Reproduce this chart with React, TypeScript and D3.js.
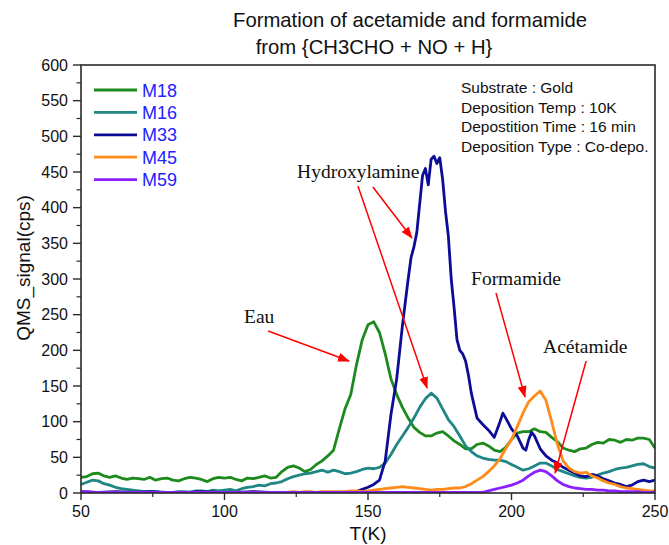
import React from "react";
import * as d3 from "d3";

// Temperature grid (K) shared by most series
const temps: number[] = d3.range(50, 251, 2);

const m18: number[] = [
  22, 23, 27, 28, 24, 22, 24, 21, 19, 21,
  20, 19, 22, 18, 20, 21, 18, 17, 20, 22,
  21, 19, 16, 20, 22, 21, 22, 19, 17, 21,
  20, 22, 24, 21, 22, 30, 36, 38, 35, 30,
  33, 40, 45, 52, 60, 90, 118, 138, 180, 215,
  236, 240, 225, 195, 160, 138, 120, 105, 92, 85,
  80, 80, 84, 86, 80, 73, 68, 62, 62, 68,
  70, 66, 60, 58, 64, 75, 84, 86, 86, 90,
  86, 85, 78, 72, 63, 60, 58, 62, 63, 68,
  71, 70, 75, 74, 71, 75, 74, 77, 77, 75,
  63,
];

const m16: number[] = [
  12, 15, 18, 17, 13, 11, 8, 6, 5, 4,
  3, 2, 2, 2, 1, 1, 1, 2, 2, 1,
  3, 3, 2, 4, 3, 4, 5, 3, 6, 8,
  9, 11, 10, 13, 14, 16, 20, 23, 25, 27,
  28, 30, 32, 29, 32, 30, 27, 28, 30, 33,
  35, 34, 36, 42, 54, 68, 80, 92, 105, 120,
  132, 140, 133, 118, 103, 93, 80, 66, 58, 52,
  49, 47, 46, 46, 44, 40, 36, 32, 34, 38,
  42, 42, 38, 33, 30, 27, 24, 22, 21, 22,
  25, 28, 30, 33, 35, 36, 38, 40, 41, 37,
  35,
];

const m33Temps: number[] = [
  50, 56, 62, 68, 74, 80, 86, 92, 98, 104,
  110, 116, 122, 128, 134, 140, 144, 146, 148, 150,
  152, 154, 156, 158, 160, 162, 164, 165, 166, 167,
  168, 169, 170, 171, 172, 173, 174, 175, 176, 177,
  178, 179, 180, 181, 182, 183, 184, 185, 186, 188,
  190, 192, 194, 196, 197, 198, 200, 202, 204, 205,
  206, 207, 208, 210, 212, 214, 216, 218, 220, 222,
  224, 226, 228, 230, 232, 234, 236, 238, 240, 242,
  244, 246, 248, 250,
];
const m33: number[] = [
  2, 1, 2, 1, 2, 1, 1, 2, 1, 1,
  2, 1, 1, 1, 1, 1, 1, 2, 5, 8,
  12, 18, 45, 110, 160, 235, 300, 330, 345, 365,
  405, 445, 455, 432, 468, 472, 462, 470, 440, 395,
  360, 300, 260, 215, 200, 195, 185, 165, 140, 105,
  96, 88, 78, 100, 112, 105, 90, 80, 63, 60,
  75, 85, 80, 62, 52, 46, 42, 36, 32, 28,
  24, 23, 26, 24, 20, 17, 14, 12, 9, 11,
  16, 18, 16, 18,
];

const m45: number[] = [
  1, 1, 1, 0, 1, 1, 1, 0, 1, 1,
  1, 1, 1, 1, 0, 1, 1, 1, 1, 1,
  1, 1, 1, 1, 1, 1, 1, 1, 1, 1,
  1, 1, 1, 1, 1, 1, 1, 2, 1, 2,
  2, 1, 2, 2, 2, 2, 2, 3, 3, 2,
  3, 4, 5, 6, 7, 8, 9, 8, 7, 6,
  5, 4, 5, 5, 6, 7, 7, 9, 13, 18,
  23, 30, 38, 48, 62, 75, 93, 112, 128, 136,
  143, 130, 100, 68, 45, 35, 30, 28, 29, 24,
  21, 17, 14, 12, 9, 7, 6, 5, 4, 3,
  3,
];

const m59: number[] = [
  2, 2, 1, 1, 1, 1, 1, 1, 1, 1,
  1, 1, 1, 1, 1, 1, 1, 1, 1, 1,
  1, 1, 1, 1, 1, 1, 1, 1, 1, 1,
  1, 1, 1, 1, 1, 1, 1, 1, 1, 1,
  1, 1, 1, 1, 1, 1, 1, 1, 1, 1,
  1, 1, 1, 1, 1, 1, 1, 1, 1, 1,
  1, 1, 1, 1, 1, 1, 1, 1, 1, 1,
  1, 3, 5, 7, 9, 11, 14, 18, 24, 29,
  32, 30, 24, 17, 12, 9, 7, 6, 5, 5,
  4, 4, 3, 3, 2, 2, 2, 2, 1, 1,
  1,
];

const seriesNames = ["M18", "M16", "M33", "M45", "M59"];
const seriesColors = ["#1d8a1d", "#1f8585", "#0c0c96", "#ff8c1a", "#8c1fff"];

const xTicks = [50, 100, 150, 200, 250];
const xMinor = [75, 125, 175, 225];
const yTicks = [0, 50, 100, 150, 200, 250, 300, 350, 400, 450, 500, 550, 600];
const yMinor = [25, 75, 125, 175, 225, 275, 325, 375, 425, 475, 525, 575];

const titleLines = ["Formation of acetamide and formamide", "from {CH3CHO + NO + H}"];
const infoLines = [
  "Substrate : Gold",
  "Deposition Temp : 10K",
  "Depostition Time : 16 min",
  "Deposition Type : Co-depo.",
];

// annotations in data coordinates
const labels = [
  { text: "Eau", t: 106.8, v: 238 },
  { text: "Hydroxylamine", t: 125.3, v: 441.6 },
  { text: "Formamide", t: 185.9, v: 291.6 },
  { text: "Acétamide", t: 211.0, v: 196.3 },
];
const arrows = [
  { t1: 115.2, v1: 227.1, t2: 143.4, v2: 185.0 },
  { t1: 151.7, v1: 429.0, t2: 165.3, v2: 357.5 },
  { t1: 146.5, v1: 430.4, t2: 170.6, v2: 147.2 },
  { t1: 194.6, v1: 280.4, t2: 204.7, v2: 134.6 },
  { t1: 226.0, v1: 185.0, t2: 215.2, v2: 28.0 },
];

const W = 669;
const H = 545;
const L = 81, R = 655, T = 65, B = 493;
const SANS = "'Liberation Sans', Arial, sans-serif";
const SERIF = "'Liberation Serif', 'Times New Roman', serif";

export default function App() {
  const x = d3.scaleLinear().domain([50, 250]).range([L, R]);
  const y = d3.scaleLinear().domain([0, 600]).range([B, T]);
  const line = d3
    .line<[number, number]>()
    .x((d) => x(d[0]))
    .y((d) => y(d[1]));

  const series: [number, number][][] = [
    temps.map((t, i) => [t, m18[i]]),
    temps.map((t, i) => [t, m16[i]]),
    m33Temps.map((t, i) => [t, m33[i]]),
    temps.map((t, i) => [t, m45[i]]),
    temps.map((t, i) => [t, m59[i]]),
  ];

  return (
    <svg
      width={W}
      height={H}
      style={{ position: "absolute", left: 0, top: 0, background: "#fff" }}
    >
      <defs>
        <marker
          id="ah"
          markerUnits="userSpaceOnUse"
          markerWidth={12}
          markerHeight={9}
          refX={11}
          refY={4.5}
          orient="auto"
        >
          <path d="M0,0 L12,4.5 L0,9 Z" fill="#ff0000" />
        </marker>
        <clipPath id="plot">
          <rect x={L} y={T} width={R - L} height={B - T} />
        </clipPath>
      </defs>

      {titleLines.map((s, i) => (
        <text
          key={s}
          x={i === 0 ? 410 : 374}
          y={i === 0 ? 27 : 54}
          textAnchor="middle"
          fontFamily={SANS}
          fontSize={20.3}
          fill="#111"
        >
          {s}
        </text>
      ))}

      <g clipPath="url(#plot)">
        {series.map((d, i) => (
          <path
            key={seriesNames[i]}
            d={line(d) || ""}
            fill="none"
            stroke={seriesColors[i]}
            strokeWidth={2.8}
            strokeLinejoin="round"
          />
        ))}
      </g>

      {/* frame */}
      <rect x={L} y={T} width={R - L} height={B - T} fill="none" stroke="#2a2a2a" strokeWidth={1.6} />

      {/* y ticks */}
      {yTicks.map((v) => (
        <g key={"y" + v}>
          <line x1={L - 8} x2={L} y1={y(v)} y2={y(v)} stroke="#2a2a2a" strokeWidth={1.4} />
          <text
            x={L - 13}
            y={y(v) + 5.5}
            textAnchor="end"
            fontFamily={SANS}
            fontSize={16}
            fill="#111"
          >
            {v}
          </text>
        </g>
      ))}
      {yMinor.map((v) => (
        <line key={"ym" + v} x1={L - 4.5} x2={L} y1={y(v)} y2={y(v)} stroke="#2a2a2a" strokeWidth={1.2} />
      ))}

      {/* x ticks */}
      {xTicks.map((t) => (
        <g key={"x" + t}>
          <line x1={x(t)} x2={x(t)} y1={B} y2={B + 7} stroke="#2a2a2a" strokeWidth={1.4} />
          <text
            x={x(t)}
            y={B + 24}
            textAnchor="middle"
            fontFamily={SANS}
            fontSize={16}
            fill="#111"
          >
            {t}
          </text>
        </g>
      ))}
      {xMinor.map((t) => (
        <line key={"xm" + t} x1={x(t)} x2={x(t)} y1={B} y2={B + 4} stroke="#2a2a2a" strokeWidth={1.2} />
      ))}

      <text
        x={(L + R) / 2}
        y={540}
        textAnchor="middle"
        fontFamily={SANS}
        fontSize={19}
        fill="#111"
      >
        T(K)
      </text>
      <text
        transform={`translate(30, 268) rotate(-90)`}
        textAnchor="middle"
        fontFamily={SANS}
        fontSize={19}
        fill="#111"
      >
        QMS_signal(cps)
      </text>

      {/* legend */}
      {seriesNames.map((n, i) => (
        <g key={"lg" + n}>
          <line
            x1={94}
            x2={137}
            y1={90 + i * 22.4}
            y2={90 + i * 22.4}
            stroke={seriesColors[i]}
            strokeWidth={2.8}
          />
          <text
            x={142}
            y={96.5 + i * 22.4}
            fontFamily={SANS}
            fontSize={18}
            fill="#2323ff"
          >
            {n}
          </text>
        </g>
      ))}

      {/* info */}
      {infoLines.map((s, i) => (
        <text
          key={s}
          x={461}
          y={93 + i * 19.6}
          fontFamily={SANS}
          fontSize={15.5}
          fill="#111"
        >
          {s}
        </text>
      ))}

      {/* annotations */}
      {arrows.map((a, i) => (
        <line
          key={"ar" + i}
          x1={x(a.t1)}
          y1={y(a.v1)}
          x2={x(a.t2)}
          y2={y(a.v2)}
          stroke="#ff0000"
          strokeWidth={1.5}
          markerEnd="url(#ah)"
        />
      ))}
      {labels.map((l) => (
        <text
          key={l.text}
          x={x(l.t)}
          y={y(l.v)}
          fontFamily={SERIF}
          fontSize={19.5}
          fill="#111"
        >
          {l.text}
        </text>
      ))}
    </svg>
  );
}
